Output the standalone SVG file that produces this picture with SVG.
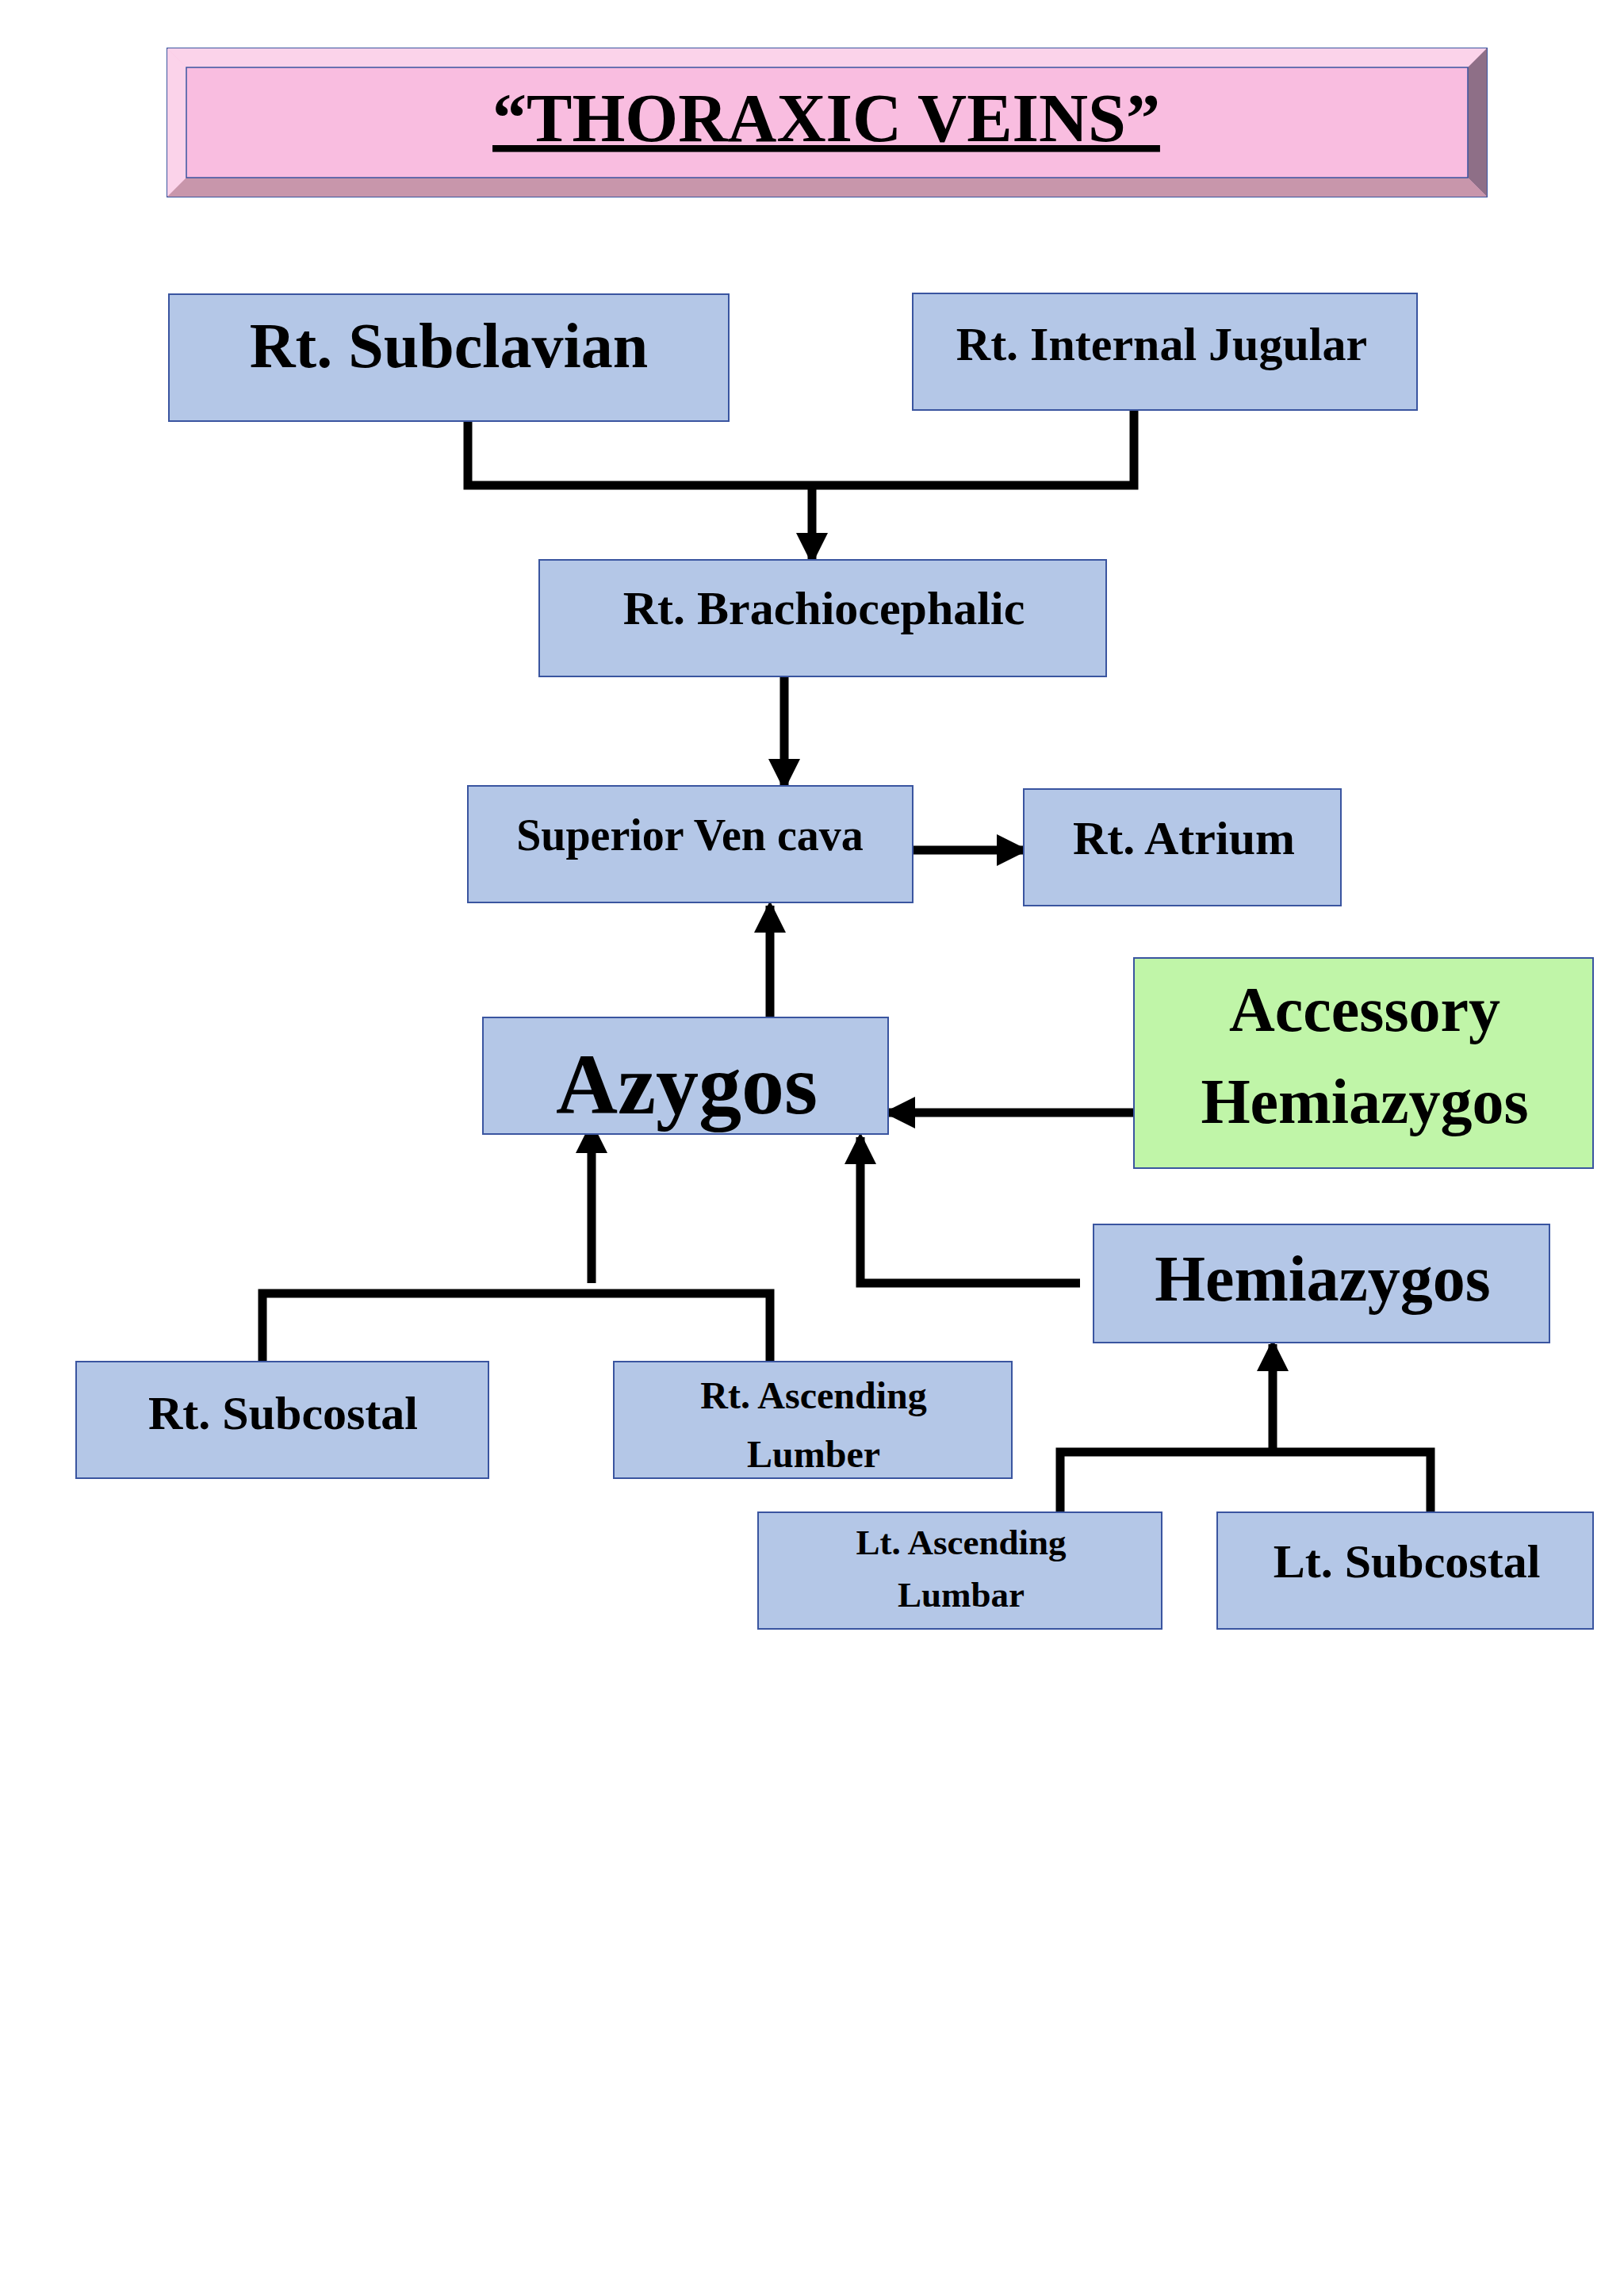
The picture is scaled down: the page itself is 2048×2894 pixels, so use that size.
<svg xmlns="http://www.w3.org/2000/svg" width="2048" height="2894" viewBox="0 0 2048 2894">
<style>
.b{fill:#b4c7e7;stroke:#3a55a0;stroke-width:2}
.g{fill:#c0f5a8;stroke:#3a55a0;stroke-width:2}
text{font-family:"Liberation Serif",serif;font-weight:bold;text-anchor:middle;fill:#000}
.c{fill:none;stroke:#000;stroke-width:11}
</style>
<defs>
<marker id="a" markerUnits="userSpaceOnUse" markerWidth="40" markerHeight="40" refX="34" refY="20" orient="auto">
<path d="M0,0 L40,20 L0,40 Z" fill="#000"/>
</marker>
</defs>
<rect width="2048" height="2894" fill="#fff"/>
<g id="title">
<rect x="211" y="61" width="1664" height="187" fill="#f9bde0" stroke="#3a55a0" stroke-width="2"/>
<polygon points="211,61 1875,61 1851,85 235,85" fill="#fbd3ea"/>
<polygon points="211,61 235,85 235,224 211,248" fill="#fbd3ea"/>
<polygon points="1875,61 1875,248 1851,224 1851,85" fill="#8e6f87"/>
<polygon points="211,248 1875,248 1851,224 235,224" fill="#c896ab"/>
<rect x="235" y="85" width="1616" height="139" fill="#f9bde0" stroke="#3a55a0" stroke-width="1.5"/>
<text x="1042" y="178" font-size="86" text-decoration="underline">“THORAXIC VEINS”</text>
</g>
<g id="connectors">
<path class="c" d="M590,532 V612 H1430 V517"/>
<path class="c" d="M1024,612 V706" marker-end="url(#a)"/>
<path class="c" d="M989,840 V991" marker-end="url(#a)"/>
<path class="c" d="M1151,1072 H1291" marker-end="url(#a)"/>
<path class="c" d="M971,1283 V1142" marker-end="url(#a)"/>
<path class="c" d="M1430,1403 H1120" marker-end="url(#a)"/>
<path class="c" d="M1362,1618 H1085 V1434" marker-end="url(#a)"/>
<path class="c" d="M331,1717 V1631 H971 V1717"/>
<path class="c" d="M746,1618 V1420" marker-end="url(#a)"/>
<path class="c" d="M1337,1907 V1831 H1804 V1907"/>
<path class="c" d="M1605,1831 V1695" marker-end="url(#a)"/>
</g>
<g id="rt-subclavian"><rect class="b" x="213" y="371" width="706" height="160"/><text x="566" y="463" font-size="80">Rt. Subclavian</text></g>
<g id="rt-internal-jugular"><rect class="b" x="1151" y="370" width="636" height="147"/><text x="1465" y="454" font-size="60">Rt. Internal Jugular</text></g>
<g id="rt-brachiocephalic"><rect class="b" x="680" y="706" width="715" height="147"/><text x="1039" y="787" font-size="60">Rt. Brachiocephalic</text></g>
<g id="superior-ven-cava"><rect class="b" x="590" y="991" width="561" height="147"/><text x="870" y="1072" font-size="56">Superior Ven cava</text></g>
<g id="rt-atrium"><rect class="b" x="1291" y="995" width="400" height="147"/><text x="1493" y="1077" font-size="60">Rt. Atrium</text></g>
<g id="azygos"><rect class="b" x="609" y="1283" width="511" height="147"/><text x="866" y="1404" font-size="108">Azygos</text></g>
<g id="accessory-hemiazygos"><rect class="g" x="1430" y="1208" width="579" height="265"/><text x="1721" y="1300" font-size="80">Accessory</text><text x="1721" y="1416" font-size="80">Hemiazygos</text></g>
<g id="hemiazygos"><rect class="b" x="1379" y="1544" width="575" height="149"/><text x="1668" y="1640" font-size="82">Hemiazygos</text></g>
<g id="rt-subcostal"><rect class="b" x="96" y="1717" width="520" height="147"/><text x="357" y="1802" font-size="60">Rt. Subcostal</text></g>
<g id="rt-ascending-lumber"><rect class="b" x="774" y="1717" width="502" height="147"/><text x="1026" y="1776" font-size="48">Rt. Ascending</text><text x="1026" y="1850" font-size="48">Lumber</text></g>
<g id="lt-ascending-lumbar"><rect class="b" x="956" y="1907" width="509" height="147"/><text x="1212" y="1960" font-size="45">Lt. Ascending</text><text x="1212" y="2026" font-size="45">Lumbar</text></g>
<g id="lt-subcostal"><rect class="b" x="1535" y="1907" width="474" height="147"/><text x="1774" y="1989" font-size="60">Lt. Subcostal</text></g>
</svg>
